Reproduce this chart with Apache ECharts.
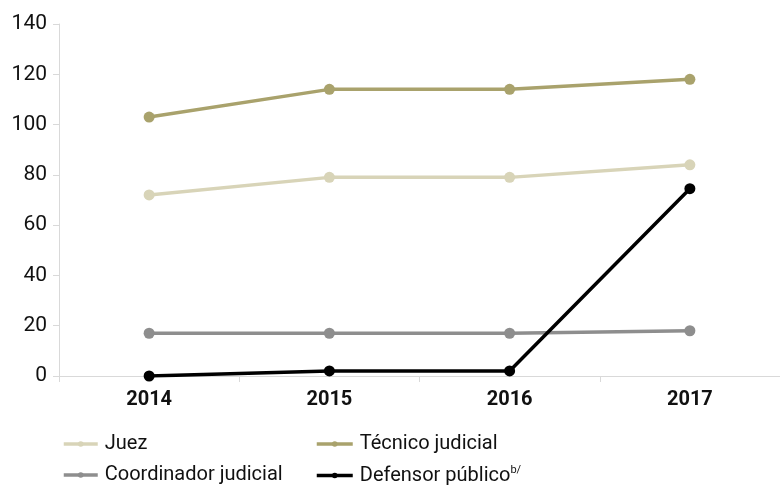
<!DOCTYPE html>
<html><head><meta charset="utf-8">
<script src="https://cdn.jsdelivr.net/npm/echarts@6/dist/echarts.min.js"></script>
<style>html,body{margin:0;padding:0;background:#fff}#c{width:780px;height:488px}</style>
</head><body><div id="c"></div>
<script>
const categories = ['2014','2015','2016','2017'];
const juez = [72, 79, 79, 84];
const tecnico = [103, 114, 114, 118];
const coordinador = [17, 17, 17, 18];
const defensor = [0, 2, 2, 74.5];
const names = ['Juez','Técnico judicial','Coordinador judicial','Defensor público'];
const colors = ['#d8d4b8','#a9a26c','#8e8e8e','#000000'];
const font = '"Roboto", sans-serif';

const chart = echarts.init(document.getElementById('c'));
const mk = (name, data, color) => ({
  name, type: 'line', data, color,
  lineStyle: {width: 3.5, color},
  itemStyle: {color},
  symbol: 'circle', symbolSize: 11, showSymbol: true
});
const legText = {fontFamily: font, fontSize: 20, color: '#111', padding: [0,0,0,2]};
chart.setOption({
  animation: false,
  grid: {left: 59, right: -6, top: 24, bottom: 112},
  legend: [
    {left: 57, top: 429, height: 120, orient: 'vertical', itemGap: 11, itemWidth: 34, itemHeight: 7,
     lineStyle: {width: 3.5}, data: [names[0], names[2]], textStyle: legText},
    {left: 310, top: 429, height: 120, orient: 'vertical', itemGap: 11, itemWidth: 36, itemHeight: 7,
     lineStyle: {width: 3.5}, data: [names[1], names[3]],
     formatter: n => n === names[3] ? n + '{sup|b/}' : n,
     textStyle: Object.assign({}, legText, {
       rich: {sup: {fontSize: 11, verticalAlign: 'top', padding: [0,0,10,0], fontFamily: font, color: '#111'}}})}
  ],
  xAxis: {
    type: 'category', data: categories, boundaryGap: true,
    axisLine: {lineStyle: {color: '#d9d9d9', width: 1}},
    axisTick: {show: true, length: 6, lineStyle: {color: '#d9d9d9'}},
    axisLabel: {fontFamily: font, fontSize: 20, fontWeight: 'bold', color: '#111', margin: 14}
  },
  yAxis: {
    type: 'value', min: 0, max: 140, interval: 20,
    axisLine: {show: true, lineStyle: {color: '#d9d9d9', width: 1}},
    axisTick: {show: true, length: 6, lineStyle: {color: '#d9d9d9'}},
    splitLine: {show: false},
    axisLabel: {fontFamily: font, fontSize: 21, color: '#111', margin: 12}
  },
  series: [
    mk(names[0], juez, colors[0]),
    mk(names[1], tecnico, colors[1]),
    mk(names[2], coordinador, colors[2]),
    mk(names[3], defensor, colors[3])
  ]
});
</script></body></html>
